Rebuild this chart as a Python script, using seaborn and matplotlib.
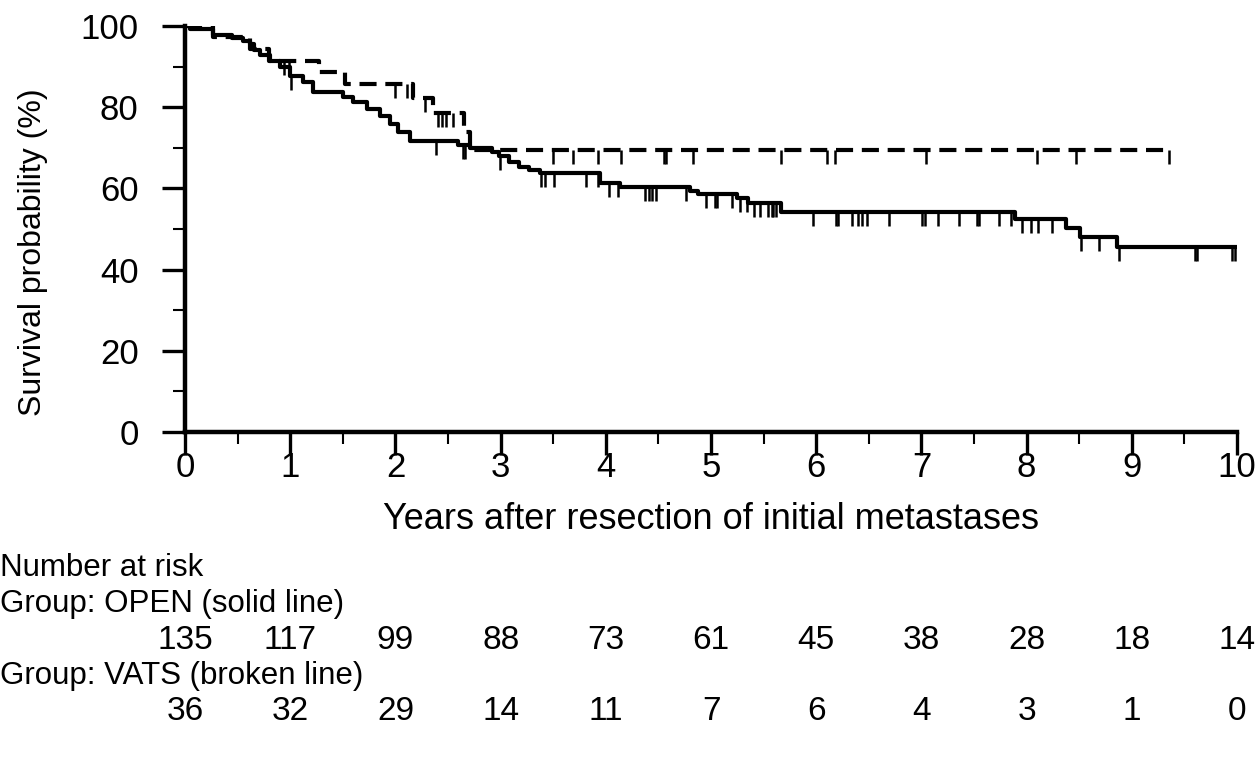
#!/usr/bin/env python3

import numpy as np
import pandas as pd
import matplotlib
matplotlib.use("Agg")
import matplotlib.pyplot as plt
import matplotlib.transforms as mtransforms
from matplotlib.ticker import MultipleLocator
import seaborn as sns

# OPEN group (solid line): event times (years) and survival (%) after each drop
open_event_t = [0.05, 0.27, 0.45, 0.55, 0.62, 0.66, 0.71, 0.81, 0.90, 1.00,
                1.12, 1.22, 1.50, 1.60, 1.73, 1.85, 1.95, 2.02, 2.14, 2.59,
                2.71, 2.92, 2.98, 3.08, 3.17, 3.27, 3.37, 3.94, 4.13, 4.80,
                4.88, 5.25, 5.35, 5.67, 7.89, 8.37, 8.51, 8.86]
open_event_s = [99.3, 97.8, 97.0, 96.3, 95.6, 94.1, 92.9, 91.4, 89.8, 87.7,
                86.1, 83.7, 82.5, 81.3, 79.6, 77.8, 75.9, 73.9, 71.7, 70.7,
                69.9, 69.0, 68.0, 66.4, 65.3, 64.5, 63.7, 61.4, 60.4, 59.4,
                58.5, 57.6, 56.5, 54.1, 52.4, 50.2, 48.0, 45.6]
open_end = 10.0
open_censor_t = [1.01, 2.39, 2.64, 2.66, 2.99, 3.38, 3.42, 3.51, 3.81, 3.93,
                 4.03, 4.12, 4.37, 4.41, 4.44, 4.48, 4.76, 4.95, 5.04, 5.06,
                 5.20, 5.28, 5.34, 5.41, 5.47, 5.54, 5.58, 5.59, 5.62, 5.97,
                 6.19, 6.21, 6.34, 6.40, 6.44, 6.48, 6.69, 7.01, 7.03, 7.16,
                 7.36, 7.53, 7.55, 7.74, 7.85, 7.96, 8.04, 8.11, 8.24, 8.52,
                 8.69, 8.88, 9.60, 9.62, 9.95, 9.98]

# VATS group (broken line)
vats_event_t = [0.27, 0.62, 0.80, 1.27, 1.52, 2.17, 2.36, 2.65, 2.71]
vats_event_s = [97.2, 94.4, 91.4, 88.6, 85.6, 82.2, 78.6, 74.0, 69.5]
vats_end = 9.35
vats_censor_t = [0.94, 0.99, 2.00, 2.11, 2.28, 2.40, 2.44, 2.48, 2.55, 3.50,
                 3.69, 3.93, 4.14, 4.55, 4.57, 4.83, 5.67, 6.10, 6.18, 7.04,
                 8.10, 8.47, 9.35]

years = list(range(0, 11))
open_at_risk = [135, 117, 99, 88, 73, 61, 45, 38, 28, 18, 14]
vats_at_risk = [36, 32, 29, 14, 11, 7, 6, 4, 3, 1, 0]


def step_frame(ev_t, ev_s, end):
    t = [0.0] + ev_t + [end]
    s = [100.0] + ev_s + [ev_s[-1]]
    return pd.DataFrame({"t": t, "s": s})


def censor_frame(ev_t, ev_s, cens):
    t = np.array(ev_t)
    s = np.array([100.0] + ev_s)
    idx = np.searchsorted(t, np.array(cens), side="right")
    return pd.DataFrame({"t": cens, "s": s[idx]})


sns.set_style("ticks")
plt.rcParams["font.family"] = ["Liberation Sans", "DejaVu Sans"]
for key in ["text.color", "axes.labelcolor", "xtick.color", "ytick.color"]:
    plt.rcParams[key] = "black"

fig = plt.figure(figsize=(12.59, 7.83), dpi=100)
ax = fig.add_axes([0.147, 0.4483, 0.8355, 0.5185])

lw = 3.0
sns.lineplot(data=step_frame(open_event_t, open_event_s, open_end), x="t", y="s",
             drawstyle="steps-post", color="black", lw=lw, ax=ax, sort=False)
sns.lineplot(data=step_frame(vats_event_t, vats_event_s, vats_end), x="t", y="s",
             drawstyle="steps-post", color="black", lw=lw, ax=ax, sort=False,
             linestyle=(0, (4.1, 2.1)))

for ev_t, ev_s, cens in [(open_event_t, open_event_s, open_censor_t),
                         (vats_event_t, vats_event_s, vats_censor_t)]:
    cf = censor_frame(ev_t, ev_s, cens)
    ax.plot(cf["t"], cf["s"], ls="none", marker=3, ms=10, mew=1.8, color="black")

ax.set_xlim(0, 10)
ax.set_ylim(0, 100)
ax.xaxis.set_major_locator(MultipleLocator(1))
ax.xaxis.set_minor_locator(MultipleLocator(0.5))
ax.yaxis.set_major_locator(MultipleLocator(20))
ax.yaxis.set_minor_locator(MultipleLocator(10))
ax.tick_params(which="major", length=16.5, width=2.4, direction="out",
               labelsize=25, color="black")
ax.tick_params(axis="x", which="major", pad=-3)
ax.tick_params(axis="y", which="major", pad=17)
ax.tick_params(which="minor", length=8.5, width=1.5, direction="out", color="black")
for side in ["top", "right"]:
    ax.spines[side].set_visible(False)
for side in ["left", "bottom"]:
    ax.spines[side].set_linewidth(3.2)
    ax.spines[side].set_color("black")
    ax.spines[side].set_capstyle("projecting")

ax.set_xlabel("Years after resection of initial metastases", fontsize=26, labelpad=13)
ax.set_ylabel("Survival probability (%)", fontsize=23)
ax.yaxis.set_label_coords(-0.13, 0.443)

# number at risk table
fig.text(0.0, 0.2746, "Number at risk", fontsize=22.5, va="center", ha="left")
fig.text(0.0, 0.2286, "Group: OPEN (solid line)", fontsize=22.5, va="center", ha="left")
fig.text(0.0, 0.1367, "Group: VATS (broken line)", fontsize=22.5, va="center", ha="left")
trans = mtransforms.blended_transform_factory(ax.transData, fig.transFigure)
for yr, n1, n2 in zip(years, open_at_risk, vats_at_risk):
    ax.text(yr, 0.1826, str(n1), transform=trans, ha="center", va="center",
            fontsize=24, clip_on=False)
    ax.text(yr, 0.0907, str(n2), transform=trans, ha="center", va="center",
            fontsize=24, clip_on=False)

fig.savefig("out.png", dpi=100)
